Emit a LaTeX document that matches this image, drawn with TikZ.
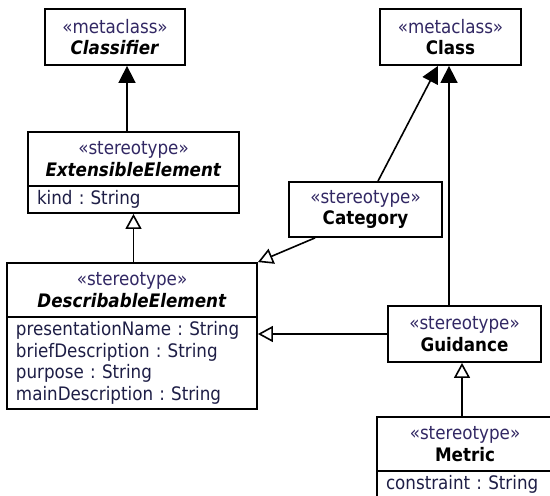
\documentclass[tikz,border=0pt]{standalone}
\usepackage{fontspec}
\newfontfamily\umlfont{DejaVu Sans Condensed}
\usepackage{xcolor}
\usepackage{tikz}
\usetikzlibrary{arrows.meta, positioning}
\definecolor{stereoblue}{RGB}{50,40,100}
\definecolor{attrblue}{RGB}{30,30,70}
\newcommand{\stereo}[1]{{\color{stereoblue}«#1»}}
\frenchspacing
\tikzset{
    header/.style={rectangle, draw=black, line width=0.9pt, fill=white, align=center, inner sep=0pt, text=black, font=\umlfont\fontsize{9.3}{10.85}\selectfont},
    attrs/.style={rectangle, draw=black, line width=0.9pt, fill=white, align=left, inner xsep=4.5pt, inner ysep=0pt, text=attrblue, font=\umlfont\fontsize{9.3}{10.85}\selectfont},
    extend/.style={line width=0.8pt, -{Triangle[length=8.5pt, width=8.5pt]}},
    generalize/.style={line width=0.8pt, -{Triangle[open, length=7.5pt, width=8pt]}}
}

\begin{document}
\begin{tikzpicture}[x=0.5pt, y=-0.5pt]
    \useasboundingbox (0,0) rectangle (550,496);
    \clip (0,0) rectangle (550,496);

    \node (classifier) [header, minimum width=70pt, minimum height=28pt] at (115,37) {\stereo{metaclass}\\\textbf{\textit{Classifier}}};
    \node (class) [header, minimum width=70.5pt, minimum height=28pt] at (450.5,37) {\stereo{metaclass}\\\textbf{Class}};
    \node (extensible) [header, minimum width=105.5pt, minimum height=27pt] at (133.5,159) {\stereo{stereotype}\\\textbf{\textit{ExtensibleElement}}};
    \node (extensibleattr) [attrs, below=-0.9pt of extensible, text width=96.5pt, minimum height=13.5pt] {kind : String};
    \node (category) [header, minimum width=76.5pt, minimum height=27.5pt] at (365.5,209.5) {\stereo{stereotype}\\\textbf{Category}};
    \node (describable) [header, minimum width=125pt, minimum height=27pt] at (132,290) {\stereo{stereotype}\\\textbf{\textit{DescribableElement}}};
    \node (describableattr) [attrs, below=-0.9pt of describable, text width=116pt, minimum height=46pt] {presentationName : String\\briefDescription : String\\purpose : String\\mainDescription : String};
    \node (guidance) [header, minimum width=76.5pt, minimum height=28pt] at (464.5,334) {\stereo{stereotype}\\\textbf{Guidance}};
    \node (metric) [header, minimum width=88pt, minimum height=27pt] at (465,444) {\stereo{stereotype}\\\textbf{Metric}};
    \node (metricattr) [attrs, below=-0.9pt of metric, text width=79pt, minimum height=13.5pt] {constraint : String};

    \draw [extend] ([xshift=-3.25pt]extensible.north) -- ([xshift=-3.25pt]extensible.north |- classifier.south);
    \draw [extend] ([xshift=6.25pt]category.north) -- ([xshift=-6.25pt]class.south);
    \draw [extend] ([xshift=-7.75pt]guidance.north) -- ([xshift=-7.75pt]guidance.north |- class.south);

    \draw [generalize] ([xshift=-25.25pt]category.south) -- (describable.north east);
    \draw [generalize] (extensibleattr.south |- describable.north) -- (extensibleattr.south);
    \draw [generalize] (guidance.west) -- (guidance.west -| describableattr.east);
    \draw [generalize] ([xshift=-1.25pt]guidance.south |- metric.north) -- ([xshift=-1.25pt]guidance.south);
\end{tikzpicture}
\end{document}
